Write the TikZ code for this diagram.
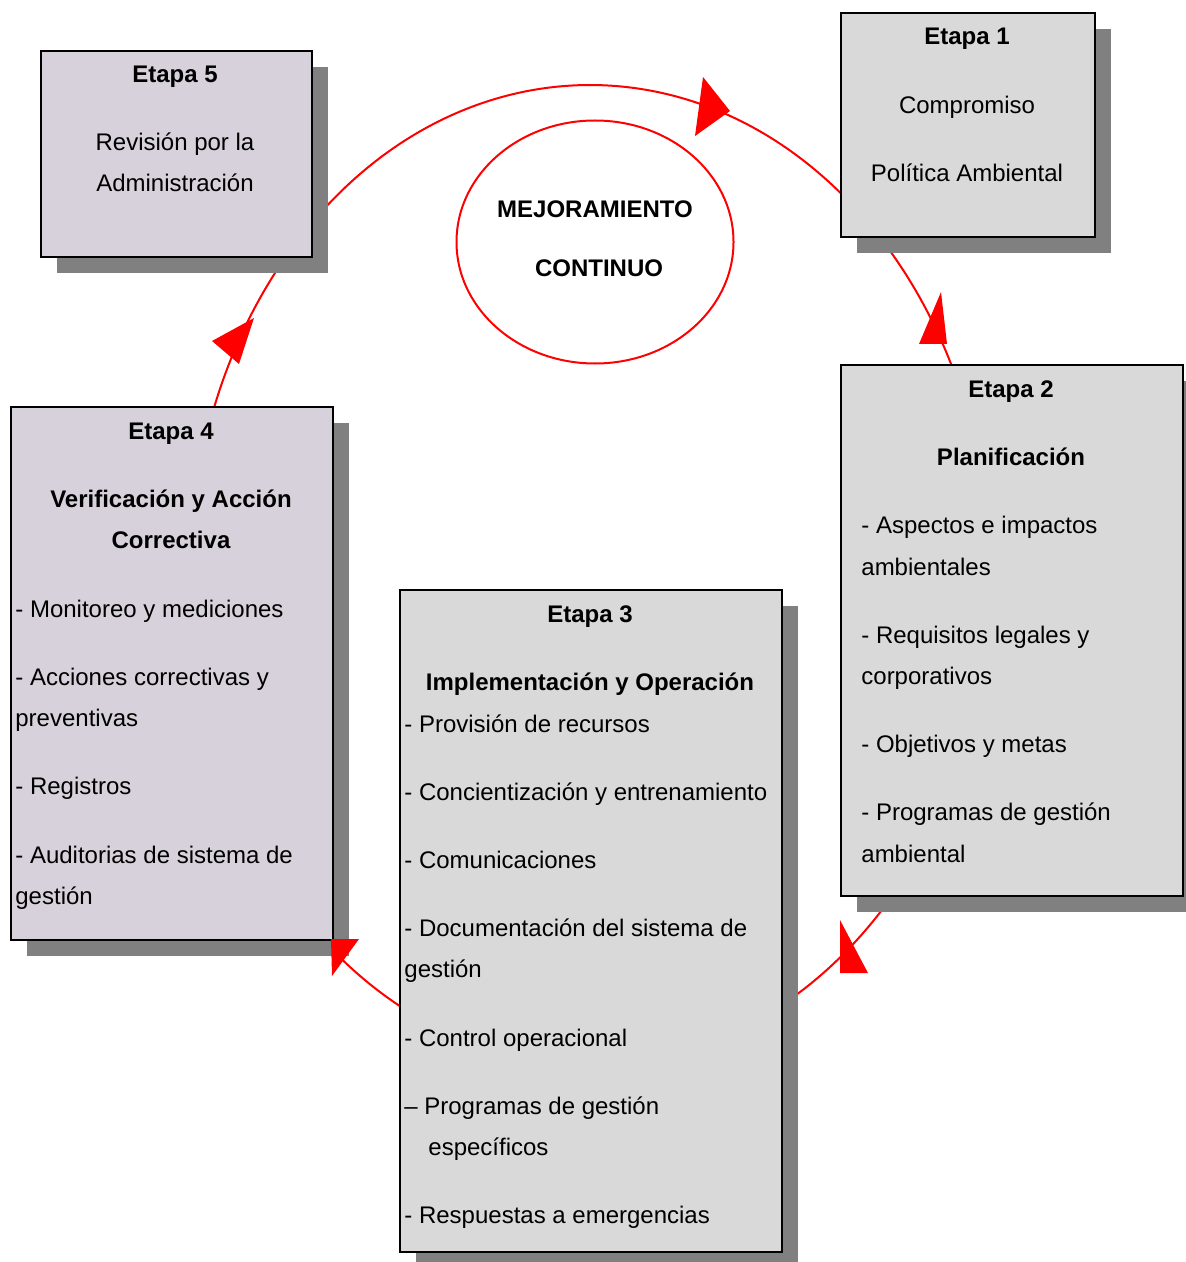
\documentclass[tikz,border=0pt]{standalone}
\usepackage{fontspec}
\setmainfont{Liberation Sans}
\usetikzlibrary{shapes.geometric,shadows}

\definecolor{boxgray}{RGB}{217,217,217}
\definecolor{boxlilac}{RGB}{214,209,219}
\definecolor{shade}{RGB}{128,128,128}
\definecolor{cyclered}{RGB}{255,0,0}

\begin{document}
\begin{tikzpicture}[
    x=0.5pt, y=-0.5pt,
    every node/.style={font=\fontsize{12pt}{20.5pt}\selectfont},
    stagebox/.style={draw=black, line width=1pt, anchor=north west, inner sep=0pt,
      drop shadow={shadow xshift=8pt, shadow yshift=-8pt, fill=shade, opacity=1}},
    graybox/.style={stagebox, fill=boxgray},
    lilacbox/.style={stagebox, fill=boxlilac},
    flow/.style={draw=cyclered, line width=1pt},
    head/.style={anchor=base, inner sep=0pt, font=\fontsize{12pt}{20.5pt}\selectfont\bfseries},
    body/.style={anchor=base, inner sep=0pt},
    item/.style={anchor=base west, inner sep=0pt},
    tip/.style={fill=cyclered}
  ]
  \useasboundingbox (0,0) rectangle (1186,1262);

  % centre of the improvement cycle
  \coordinate (ring) at (590,575);

  % cycle arcs (ends tuck under the stage boxes)
  \draw[flow] (ring) ++(-135:400 and 490) arc[start angle=-135, end angle=-48, x radius=400, y radius=490];
  \draw[flow] (ring) ++(-46:400 and 490) arc[start angle=-46, end angle=-22, x radius=400, y radius=490];
  \draw[flow] (ring) ++(40:400 and 490) arc[start angle=40, end angle=62, x radius=400, y radius=490];
  \draw[flow] (ring) ++(116:400 and 490) arc[start angle=116, end angle=132, x radius=400, y radius=490];
  \draw[flow] (ring) ++(-162:400 and 490) arc[start angle=-162, end angle=-138, x radius=400, y radius=490];

  % central ellipse
  \node[ellipse, draw=cyclered, line width=1pt, minimum width=138.5pt, minimum height=121.5pt, inner sep=0pt] (core) at (595,242) {};
  \node[head] (coreA) at (595,218) {MEJORAMIENTO};
  \node[head] (coreB) at (599,277) {CONTINUO};

  % stage boxes
  \node[lilacbox, minimum width=135.5pt, minimum height=103pt] (e5) at (40,50) {};
  \node[graybox, minimum width=127pt, minimum height=112pt] (e1) at (840,12) {};
  \node[graybox, minimum width=171pt, minimum height=265.5pt] (e2) at (840,364) {};
  \node[graybox, minimum width=191pt, minimum height=331pt] (e3) at (399,589) {};
  \node[lilacbox, minimum width=161pt, minimum height=266.5pt] (e4) at (10,406) {};

  % Etapa 5
  \node[head] (e5h) at (175,83) {Etapa 5};
  \node[body] (e5a) at (175,151) {Revisión por la};
  \node[body] (e5b) at (175,192) {Administración};

  % Etapa 1
  \node[head] (e1h) at (967,45) {Etapa 1};
  \node[body] (e1a) at (967,114) {Compromiso};
  \node[body] (e1b) at (967,182) {Política Ambiental};

  % Etapa 2
  \node[head] (e2h) at (1011,397) {Etapa 2};
  \node[head] (e2t) at (1011,465) {Planificación};
  \foreach \yy/\tx [count=\i] in {533/{- Aspectos e impactos}, 575/{ambientales},
      643/{- Requisitos legales y}, 684/{corporativos}, 752/{- Objetivos y metas},
      820/{- Programas de gestión}, 862/{ambiental}}
    \node[item] (e2l\i) at (861,\yy) {\tx};

  % Etapa 3
  \node[head] (e3h) at (590,622) {Etapa 3};
  \node[head] (e3t) at (590,690) {Implementación y Operación};
  \foreach \yy/\tx [count=\i] in {732/{- Provisión de recursos},
      800/{- Concientización y entrenamiento}, 868/{- Comunicaciones},
      936/{- Documentación del sistema de}, 977/{gestión}, 1046/{- Control operacional},
      1114/{– Programas de gestión}, 1223/{- Respuestas a emergencias}}
    \node[item] (e3l\i) at (404,\yy) {\tx};
  \node[item] (e3x) at (428,1155) {específicos};

  % Etapa 4
  \node[head] (e4h) at (171,439) {Etapa 4};
  \node[head] (e4t) at (171,507) {Verificación y Acción};
  \node[head] (e4u) at (171,548) {Correctiva};
  \foreach \yy/\tx [count=\i] in {617/{- Monitoreo y mediciones},
      685/{- Acciones correctivas y}, 726/{preventivas}, 794/{- Registros},
      863/{- Auditorias de sistema de}, 904/{gestión}}
    \node[item] (e4l\i) at (15,\yy) {\tx};

  % arrowheads along the cycle
  \fill[tip] (703,77) -- (730,111) -- (695,136) -- cycle;
  \fill[tip] (941,292) -- (919,344) -- (947,344) -- cycle;
  \fill[tip] (840,920) -- (840,973) -- (868,973) -- cycle;
  \fill[tip] (331,939) -- (359,939) -- (332,976) -- cycle;
  \fill[tip] (212,341) -- (254,318) -- (239,364) -- cycle;
\end{tikzpicture}
\end{document}
